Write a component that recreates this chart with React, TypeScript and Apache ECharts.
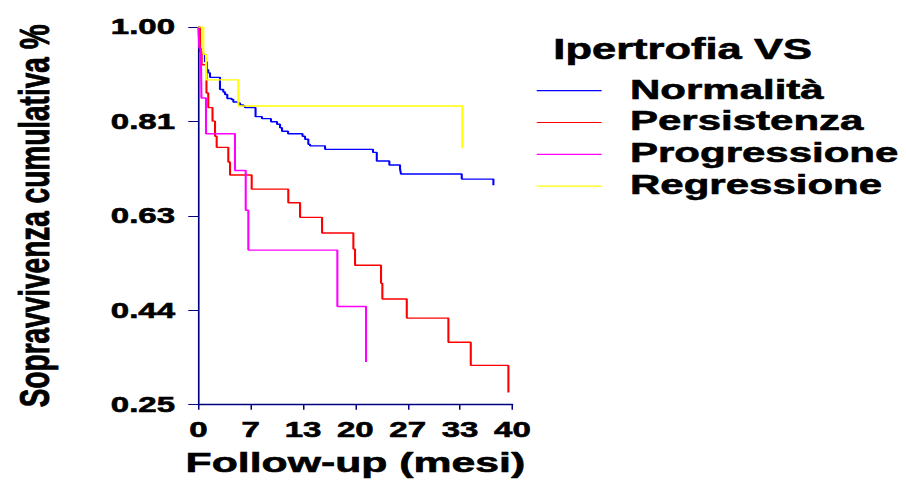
import { useEffect, useRef } from 'react';
import * as echarts from 'echarts';

// Axis tick labels
const xTickLabels = ['0', '7', '13', '20', '27', '33', '40'];
const yTickLabels = ['0.25', '0.44', '0.63', '0.81', '1.00'];

// Groups
const seriesNames = ['Normalità', 'Persistenza', 'Progressione', 'Regressione'];
const seriesColors = ['#0000ff', '#ff0000', '#ff00ff', '#ffff00'];
const legendTitle = 'Ipertrofia VS';

// Kaplan-Meier estimates: event times (months) and cumulative survival after each event
const normalitaTime = [0, 0.22, 0.43, 0.85, 1.07, 1.27, 1.49, 2.76, 3.18, 3.4, 3.69, 4.25, 4.46, 5.1, 5.31, 5.73, 5.95, 7.29, 8.11, 9.26, 10.03, 10.41, 10.66, 11.43, 13.27, 13.59, 14.01, 14.23, 16.14, 22.25, 22.73, 24.33, 25.69, 25.82, 33.55, 37.58];
const normalitaSurv = [1, 0.951, 0.946, 0.931, 0.915, 0.909, 0.9, 0.876, 0.871, 0.866, 0.858, 0.856, 0.851, 0.849, 0.845, 0.843, 0.84, 0.822, 0.818, 0.812, 0.807, 0.8, 0.793, 0.788, 0.783, 0.777, 0.767, 0.764, 0.757, 0.751, 0.734, 0.726, 0.718, 0.708, 0.698, 0.686];

const persistenzaTime = [0, 0.22, 0.43, 1.04, 1.27, 1.81, 2.13, 2.34, 3.82, 4.04, 6.8, 11.46, 12.96, 15.76, 19.75, 19.96, 23.27, 23.44, 26.55, 31.85, 34.7, 39.49];
const persistenzaSurv = [1, 0.951, 0.925, 0.869, 0.84, 0.813, 0.783, 0.761, 0.732, 0.706, 0.678, 0.651, 0.622, 0.591, 0.559, 0.527, 0.491, 0.46, 0.422, 0.374, 0.328, 0.274];

const progressioneTime = [0, 0.13, 0.34, 0.4, 0.98, 4.67, 6.04, 6.37, 17.71, 21.36];
const progressioneSurv = [1, 0.958, 0.932, 0.859, 0.788, 0.715, 0.636, 0.557, 0.445, 0.335];

const regressioneTime = [0, 0.64, 0.98, 5.1, 33.63];
const regressioneSurv = [1, 0.946, 0.895, 0.843, 0.759];

const curveTimes = [normalitaTime, persistenzaTime, progressioneTime, regressioneTime];
const curveSurv = [normalitaSurv, persistenzaSurv, progressioneSurv, regressioneSurv];

const X_MIN = 0;
const X_MAX = 40;
const Y_MIN = 0.25;
const Y_MAX = 1;
const xStep = (X_MAX - X_MIN) / (xTickLabels.length - 1);
const yStep = (Y_MAX - Y_MIN) / (yTickLabels.length - 1);

// The canvas is laid out narrow and widened horizontally, as in the original figure
const PAGE_W = 906;
const PAGE_H = 482;
const STRETCH = 1.5;
const CHART_W = PAGE_W / STRETCH;

const FONT = '"Liberation Sans", Arial, Helvetica, sans-serif';
const AXIS_COLOR = '#000080';
// a thin outline gives the heavy lettering of the figure
const TEXT_EDGE = { textBorderColor: '#000', textBorderWidth: 0.6 };

export default function App() {
  const ref = useRef<HTMLDivElement>(null);

  useEffect(() => {
    if (!ref.current) return;
    const chart = echarts.init(ref.current, undefined, { renderer: 'svg' });

    const series = seriesNames.map((name, i) => ({
      name,
      type: 'line' as const,
      step: 'end' as const,
      symbol: 'none',
      showSymbol: false,
      z: 2 + i,
      // survival is measured from the bottom of the axis (Y_MIN)
      data: curveTimes[i].map((t, k) => [t, curveSurv[i][k] - Y_MIN]),
      lineStyle: { color: seriesColors[i], width: 1.4 },
      itemStyle: { color: seriesColors[i] },
    }));

    const legendX = 357.8;
    const legendTextX = 420;
    const legendY0 = 90.7;
    const legendGap = 31.8;

    const legendElements: any[] = [
      {
        type: 'text',
        style: {
          text: legendTitle,
          x: 368.9,
          y: 49,
          font: `bold 29px ${FONT}`,
          fill: '#000',
          stroke: '#000',
          lineWidth: 0.6,
          align: 'left',
          textAlign: 'left',
          verticalAlign: 'middle',
          textVerticalAlign: 'middle',
        },
      },
    ];
    seriesNames.forEach((name, i) => {
      const y = legendY0 + legendGap * i;
      legendElements.push({
        type: 'line',
        shape: { x1: legendX, y1: y, x2: legendX + 43.3, y2: y },
        style: { stroke: seriesColors[i], lineWidth: 1.2 },
      });
      legendElements.push({
        type: 'text',
        style: {
          text: name,
          x: legendTextX,
          y: y - 1.5,
          font: `bold 28px ${FONT}`,
          fill: '#000',
          stroke: '#000',
          lineWidth: 0.6,
          align: 'left',
          textAlign: 'left',
          verticalAlign: 'middle',
          textVerticalAlign: 'middle',
        },
      });
    });

    chart.setOption({
      animation: false,
      backgroundColor: '#ffffff',
      grid: { left: 132.2, top: 27, width: 209.4, height: 381, containLabel: false },
      xAxis: {
        type: 'value',
        min: X_MIN,
        max: X_MAX,
        interval: xStep,
        name: 'Follow-up (mesi)',
        nameLocation: 'middle',
        nameGap: 43,
        nameTextStyle: { fontFamily: FONT, fontWeight: 'bold', fontSize: 28.5, color: '#000', ...TEXT_EDGE },
        axisLine: { show: true, onZero: false, lineStyle: { color: AXIS_COLOR, width: 1.3 } },
        axisTick: { show: true, length: 5, lineStyle: { color: AXIS_COLOR, width: 1 } },
        splitLine: { show: false },
        axisLabel: {
          margin: 14,
          fontFamily: FONT,
          fontWeight: 'bold',
          fontSize: 22,
          color: '#000',
          ...TEXT_EDGE,
          showMinLabel: true,
          showMaxLabel: true,
          formatter: (v: number) => xTickLabels[Math.round((v - X_MIN) / xStep)] ?? '',
        },
      },
      yAxis: {
        type: 'value',
        min: 0,
        max: Y_MAX - Y_MIN,
        interval: yStep,
        name: 'Sopravvivenza cumulativa %',
        nameLocation: 'middle',
        nameGap: 95,
        nameTextStyle: { fontFamily: FONT, fontWeight: 'bold', fontSize: 28, color: '#000', ...TEXT_EDGE },
        axisLine: { show: true, onZero: false, lineStyle: { color: AXIS_COLOR, width: 1.1 } },
        axisTick: { show: true, length: 6.7, lineStyle: { color: AXIS_COLOR, width: 1 } },
        splitLine: { show: false },
        axisLabel: {
          margin: 15.5,
          fontFamily: FONT,
          fontWeight: 'bold',
          fontSize: 22,
          color: '#000',
          ...TEXT_EDGE,
          showMinLabel: true,
          showMaxLabel: true,
          formatter: (v: number) => yTickLabels[Math.round(v / yStep)] ?? '',
        },
      },
      series,
      graphic: legendElements,
    });

    return () => chart.dispose();
  }, []);

  return (
    <div
      style={{
        position: 'fixed',
        left: 0,
        top: 0,
        width: PAGE_W,
        height: PAGE_H,
        overflow: 'hidden',
        background: '#ffffff',
      }}
    >
      <div
        ref={ref}
        style={{
          width: CHART_W,
          height: PAGE_H,
          transform: `scaleX(${STRETCH})`,
          transformOrigin: '0 0',
        }}
      />
    </div>
  );
}
